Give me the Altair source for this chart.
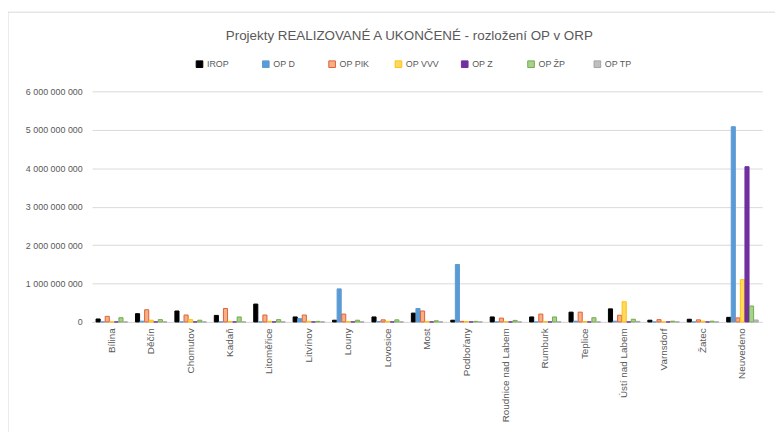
import altair as alt
import pandas as pd

categories = ["Bílina", "Děčín", "Chomutov", "Kadaň", "Litoměřice", "Litvínov", "Louny",
              "Lovosice", "Most", "Podbořany", "Roudnice nad Labem", "Rumburk", "Teplice",
              "Ústí nad Labem", "Varnsdorf", "Žatec", "Neuvedeno"]

series = ["IROP", "OP D", "OP PIK", "OP VVV", "OP Z", "OP ŽP", "OP TP"]

# values in millions CZK
irop = [77, 215, 285, 170, 465, 130, 45, 130, 230, 45, 130, 130, 255, 340, 45, 70, 120]
op_d = [0, 20, 0, 0, 0, 85, 860, 10, 350, 1495, 0, 0, 20, 20, 0, 0, 5080]
op_pik = [145, 317, 180, 350, 180, 180, 205, 55, 285, 15, 100, 205, 255, 175, 60, 55, 105]
op_vvv = [0, 45, 60, 10, 15, 15, 10, 15, 15, 10, 10, 10, 10, 525, 0, 20, 1100]
op_z = [0, 0, 0, 0, 0, 0, 0, 0, 0, 0, 0, 0, 0, 0, 0, 0, 4040]
op_zp = [110, 60, 45, 130, 60, 15, 45, 55, 30, 15, 40, 130, 110, 70, 20, 20, 415]
op_tp = [0, 0, 0, 0, 0, 0, 0, 0, 0, 0, 0, 0, 0, 15, 0, 0, 50]

fills = ["#000000", "#5B9BD5", "#F4B183", "#FFD966", "#7030A0", "#A9D18E", "#BFBFBF"]
strokes = ["#000000", "#5B9BD5", "#E0603C", "#FFC000", "#7030A0", "#70AD47", "#A5A5A5"]

rows = []
for s, vals in zip(series, [irop, op_d, op_pik, op_vvv, op_z, op_zp, op_tp]):
    for c, v in zip(categories, vals):
        rows.append({"ORP": c, "OP": s, "value": v * 1_000_000})
df = pd.DataFrame(rows)

grey = "#595959"

bars = alt.Chart(df).mark_bar(strokeWidth=1).encode(
    x=alt.X("ORP:N", sort=categories, title=None,
            scale=alt.Scale(paddingInner=0.2, paddingOuter=0.1),
            axis=alt.Axis(labelAngle=-90, labelFontSize=10, labelColor=grey, ticks=False,
                          domainColor="#D9D9D9", labelPadding=6, labelFont="Liberation Sans")),
    xOffset=alt.XOffset("OP:N", sort=series, scale=alt.Scale(paddingInner=0.1)),
    y=alt.Y("value:Q", title=None,
            scale=alt.Scale(domain=[0, 6_000_000_000]),
            axis=alt.Axis(values=[0, 1e9, 2e9, 3e9, 4e9, 5e9, 6e9], format=",d",
                          labelFontSize=9, labelColor=grey, labelFont="Liberation Sans",
                          domain=False, ticks=False, labelPadding=10,
                          gridColor="#D9D9D9")),
    color=alt.Color("OP:N", sort=series, title=None,
                    scale=alt.Scale(domain=series, range=fills)),
    stroke=alt.Stroke("OP:N", sort=series, title=None,
                      scale=alt.Scale(domain=series, range=strokes)),
)

frame_df = pd.DataFrame({"k": [0]})
frame_left = alt.Chart(frame_df).mark_rule(color="#D9D9D9").encode(
    x=alt.value(-85), y=alt.value(-80), y2=alt.value(400))
frame_top = alt.Chart(frame_df).mark_rule(color="#D9D9D9").encode(
    x=alt.value(-85), x2=alt.value(800), y=alt.value(-80))

chart = alt.layer(frame_left, frame_top, bars).properties(
    width=677, height=233,
    autosize=alt.AutoSizeParams(type="none"),
    padding={"left": 85, "top": 82, "right": 13, "bottom": 110},
    title=alt.TitleParams("Projekty REALIZOVANÉ A UKONČENÉ - rozložení OP v ORP",
                          fontSize=13.5, fontWeight="normal", color=grey,
                          font="Liberation Sans", dx=-18, offset=-31, anchor="middle"),
).configure_view(stroke=None).configure_legend(
    orient="none", legendX=104, legendY=-32, direction="horizontal", columns=7,
    gridAlign="all", columnPadding=20, symbolType="square", symbolSize=45,
    symbolStrokeWidth=1, labelFontSize=9, labelColor=grey, labelFont="Liberation Sans",
    labelOffset=3, padding=0
)

chart.save("out.html", embed_options={
    "renderer": "svg", "actions": False,
    "formatLocale": {"decimal": ",", "thousands": " ", "grouping": [3], "currency": ["", " Kč"]}
})
